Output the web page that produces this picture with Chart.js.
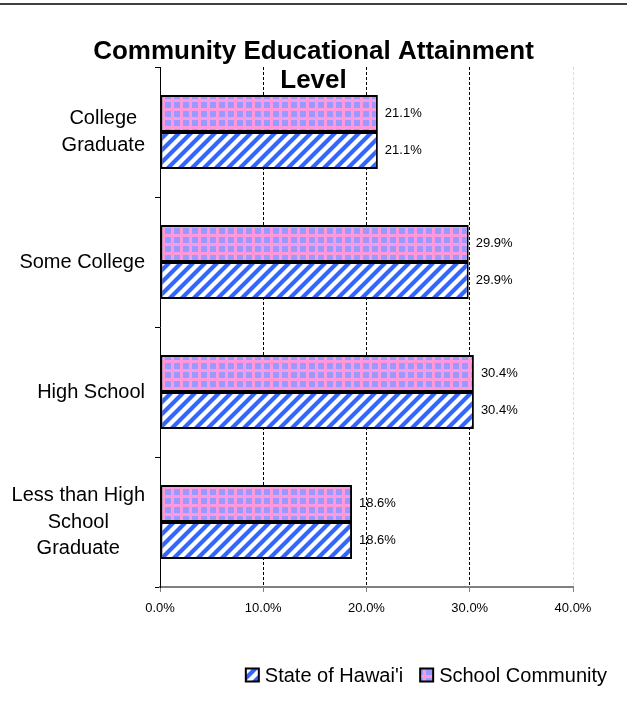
<!DOCTYPE html>
<html>
<head>
<meta charset="utf-8">
<script src="https://cdn.jsdelivr.net/npm/chart.js@4/dist/chart.umd.min.js"></script>
<style>
html,body{margin:0;padding:0;background:#fff;}
#wrap{position:relative;width:627px;height:709px;}
</style>
</head>
<body>
<div id="wrap"><canvas id="c"></canvas></div>
<script>
// ---- data ----
const categories = [
  ['College', 'Graduate'],
  ['Some College'],
  ['High School'],
  ['Less than High', 'School', 'Graduate']
];
const schoolCommunity = [21.1, 29.9, 30.4, 18.6];
const stateOfHawaii = [21.1, 29.9, 30.4, 18.6];
const seriesNames = ['School Community', "State of Hawai'i"];
const legendOrder = ["State of Hawai'i", 'School Community'];
const titleLines = ['Community Educational Attainment', 'Level'];
const xTicks = [0, 10, 20, 30, 40];

// ---- patterns ----
function stripePattern() {
  const s = 12, c = document.createElement('canvas');
  c.width = s; c.height = s;
  const g = c.getContext('2d');
  g.fillStyle = '#ffffff'; g.fillRect(0, 0, s, s);
  g.strokeStyle = '#3366ff'; g.lineWidth = 4.2;
  g.beginPath();
  g.moveTo(-s/2, s/2); g.lineTo(s/2, -s/2);
  g.moveTo(0, s); g.lineTo(s, 0);
  g.moveTo(s/2, s*1.5); g.lineTo(s*1.5, s/2);
  g.stroke();
  return g.createPattern(c, 'repeat');
}
function gridPattern() {
  const s = 9, c = document.createElement('canvas');
  c.width = s; c.height = s;
  const g = c.getContext('2d');
  g.fillStyle = '#9999ff'; g.fillRect(0, 0, s, s);
  g.fillStyle = '#ff99dd';
  g.fillRect(0, 0, s, 3);
  g.fillRect(0, 0, 3, s);
  return g.createPattern(c, 'repeat');
}
const pGrid = gridPattern();
const pStripe = stripePattern();

const FONT = 'Arial, "Liberation Sans", sans-serif';

const overlay = {
  id: 'overlay',
  beforeDraw(chart) {
    const ctx = chart.ctx;
    ctx.save();
    ctx.strokeStyle = '#404040';
    ctx.lineWidth = 2;
    ctx.beginPath(); ctx.moveTo(0, 4); ctx.lineTo(chart.width, 4); ctx.stroke();
    ctx.restore();
  },
  afterDraw(chart) {
    const ctx = chart.ctx;
    const y = chart.scales.y;
    ctx.save();
    // category labels
    ctx.fillStyle = '#000';
    ctx.font = '20px ' + FONT;
    ctx.textBaseline = 'middle';
    ctx.textAlign = 'center';
    const lh = 26.5;
    categories.forEach((lines, i) => {
      const cy = y.getPixelForValue(i);
      const w = Math.max(...lines.map(l => ctx.measureText(l).width));
      const cx = y.right - 15 - w / 2;
      lines.forEach((l, k) => {
        ctx.fillText(l, cx, cy + (k - (lines.length - 1) / 2) * lh);
      });
    });
    // data labels
    ctx.font = '13px ' + FONT;
    ctx.textAlign = 'left';
    chart.data.datasets.forEach((ds, di) => {
      const meta = chart.getDatasetMeta(di);
      meta.data.forEach((bar, i) => {
        ctx.fillText(ds.data[i].toFixed(1) + '%', bar.x + 7, bar.y);
      });
    });
    // title
    ctx.font = 'bold 26px ' + FONT;
    ctx.textAlign = 'center';
    ctx.textBaseline = 'alphabetic';
    const tx = chart.width / 2;
    ctx.fillText(titleLines[0], tx, 59);
    ctx.fillText(titleLines[1], tx, 88);
    // legend
    ctx.font = '20px ' + FONT;
    ctx.textBaseline = 'middle';
    ctx.textAlign = 'left';
    const items = legendOrder.map(n => {
      const di = seriesNames.indexOf(n);
      return {text: n, fill: chart.data.datasets[di].backgroundColor};
    });
    const box = 13, gapBT = 6, gapItems = 17;
    let total = 0;
    items.forEach((it, k) => {
      total += box + gapBT + ctx.measureText(it.text).width + (k < items.length - 1 ? gapItems : 0);
    });
    let lx = 607 - total;
    const ly = 675;
    items.forEach(it => {
      ctx.fillStyle = it.fill;
      ctx.fillRect(lx, ly - box / 2, box, box);
      ctx.strokeStyle = '#000'; ctx.lineWidth = 2;
      ctx.strokeRect(lx, ly - box / 2, box, box);
      ctx.fillStyle = '#000';
      ctx.fillText(it.text, lx + box + gapBT, ly + 1);
      lx += box + gapBT + ctx.measureText(it.text).width + gapItems;
    });
    ctx.restore();
  }
};

new Chart(document.getElementById('c'), {
  type: 'bar',
  data: {
    labels: categories,
    datasets: [
      {label: seriesNames[0], data: schoolCommunity, backgroundColor: pGrid,
       borderColor: '#000', borderWidth: 2, borderSkipped: false},
      {label: seriesNames[1], data: stateOfHawaii, backgroundColor: pStripe,
       borderColor: '#000', borderWidth: 2, borderSkipped: false}
    ]
  },
  options: {
    indexAxis: 'y',
    responsive: true,
    maintainAspectRatio: false,
    animation: false,
    devicePixelRatio: 1,
    categoryPercentage: 0.57,
    barPercentage: 1.0,
    layout: {padding: {top: 67, right: 54, bottom: 0, left: 0}},
    plugins: {legend: {display: false}, title: {display: false}, tooltip: {enabled: false}},
    scales: {
      x: {
        min: 0, max: 40,
        afterBuildTicks(scale) { scale.ticks = xTicks.map(v => ({value: v})); },
        afterFit(scale) { scale.height = 122; },
        ticks: {
          callback: v => Number(v).toFixed(1) + '%',
          font: {family: FONT, size: 13}, color: '#000', padding: 9, maxRotation: 0
        },
        grid: {
          color: c => c.tick && c.tick.value === 40 ? '#dddddd' : (c.tick && c.tick.value === 0 ? 'rgba(0,0,0,0)' : '#000000'),
          lineWidth: 1,
          tickColor: '#808080',
          tickLength: 5,
          drawTicks: true
        },
        border: {display: true, color: '#808080', width: 2, dash: [3, 2]}
      },
      y: {
        afterFit(scale) { scale.width = 160; },
        ticks: {display: false},
        grid: {offset: true, drawOnChartArea: false, drawTicks: true, tickLength: 5, color: '#000'},
        border: {display: true, color: '#000', width: 1}
      }
    }
  },
  plugins: [overlay]
});
</script>
</body>
</html>
